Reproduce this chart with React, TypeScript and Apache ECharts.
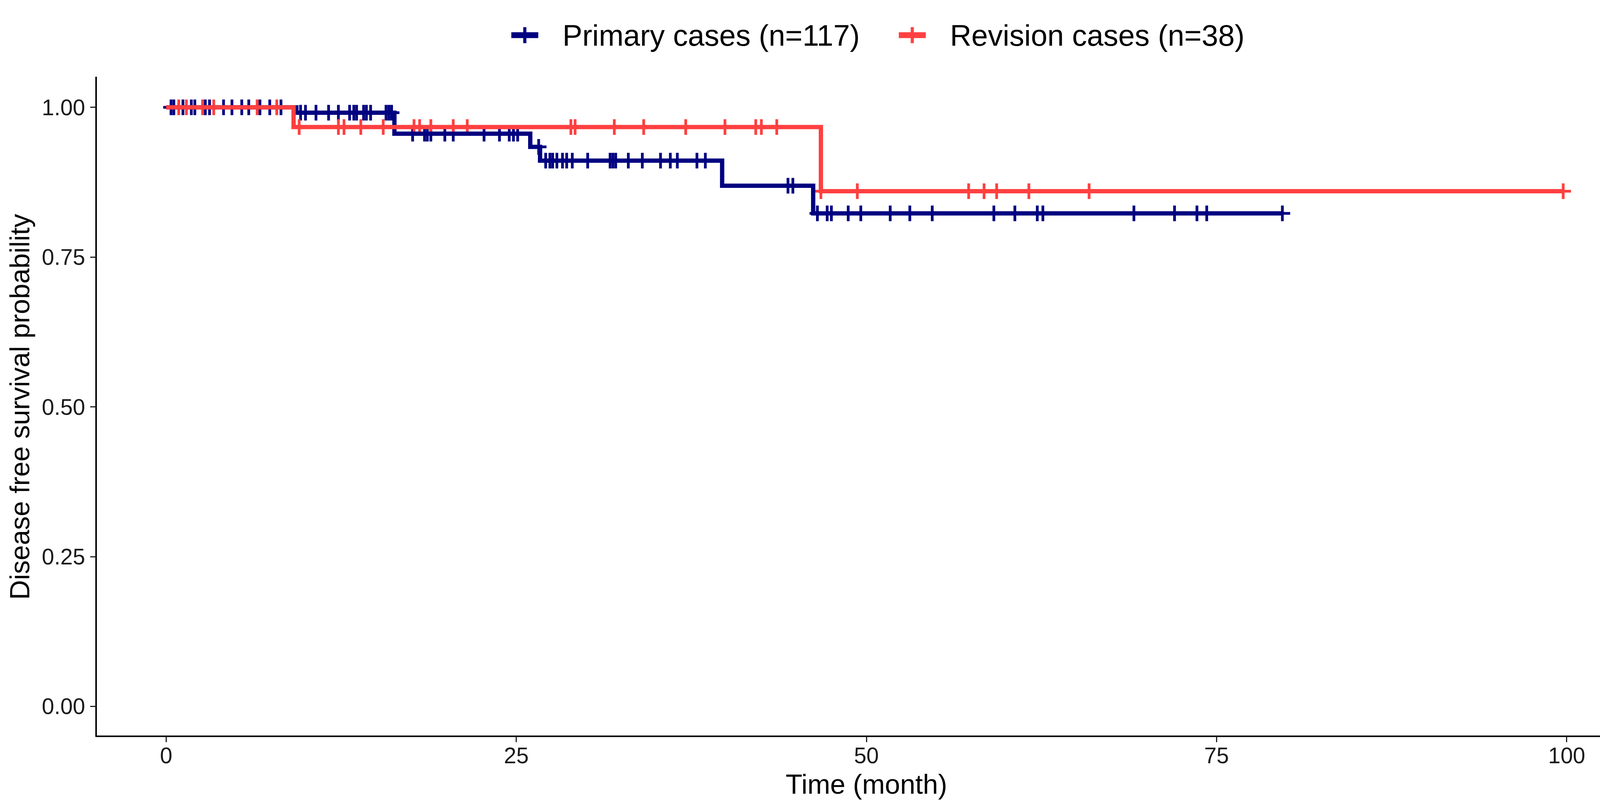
import React, { useEffect, useRef } from "react";
import * as echarts from "echarts";

// ---- Data ----
const seriesNames = ["Primary cases (n=117)", "Revision cases (n=38)"];
const seriesColors = ["#000080", "#FF4040"];

const xTicks = [0, 25, 50, 75, 100];
const yTicks = [0, 0.25, 0.5, 0.75, 1];

// Primary: event times and survival after each event
const primaryEventTimes = [0, 9.3, 16.3, 26.0, 26.7, 39.7, 46.2];
const primarySurv = [1, 0.991, 0.956, 0.934, 0.911, 0.869, 0.823];
const primaryCensorTimes = [
  0.35, 0.55, 1.2, 1.8, 2.05, 2.8, 3.1, 4.1, 4.7, 5.4, 5.9, 6.7, 7.4, 8.2,
  9.6, 9.95, 10.7, 11.6, 12.3, 13.1, 13.4, 13.6, 14.1, 14.3, 14.6, 15.7, 15.9, 16.1,
  17.6, 18.45, 18.65, 18.9, 19.9, 20.5, 22.7, 23.8, 24.5, 24.8, 25.1,
  26.6,
  27.1, 27.4, 27.6, 27.9, 28.3, 28.6, 29.0, 30.1, 31.7, 31.9, 32.1, 33.0, 34.0, 35.3, 36.0, 36.5, 37.9, 38.5,
  44.4, 44.75,
  46.5, 47.2, 47.5, 48.7, 49.6, 51.7, 53.1, 54.7, 59.1, 60.6, 62.2, 62.6, 69.1, 72.0, 73.6, 74.3, 79.7,
];

// Revision
const revisionEventTimes = [0, 9.1, 46.75];
const revisionSurv = [1, 0.967, 0.86];
const revisionCensorTimes = [
  0.9, 1.45, 2.6, 3.4, 6.5, 7.9,
  9.5, 12.3, 12.7, 13.9, 15.5, 17.7, 18.1, 18.9, 20.5, 21.5, 28.9, 29.2, 32.0, 34.1, 37.1, 39.9, 42.1, 42.5, 43.6,
  46.75, 49.35, 57.3, 58.4, 59.3, 61.6, 65.9, 99.75,
];

// ---- helpers ----
function survAt(times: number[], surv: number[], t: number) {
  let s = surv[0];
  for (let i = 0; i < times.length; i++) if (times[i] <= t) s = surv[i];
  return s;
}
function stepData(times: number[], surv: number[], censors: number[]) {
  const d = times.map((t, i) => [t, surv[i]]);
  const last = Math.max(...censors, times[times.length - 1]);
  d.push([last, survAt(times, surv, last)]);
  return d;
}
function censorData(times: number[], surv: number[], censors: number[]) {
  return censors.map((t) => [t, survAt(times, surv, t)]);
}

const FONT = "'Liberation Sans', Arial, Helvetica, sans-serif";
const PLUS = "path://M0,16.5h40v7h-40z M16.5,0h7v40h-7z";
const LEGEND_PLUS = "path://M0,13h69v15h-69z M30.5,0h8v41h-8z";

export default function App() {
  const ref = useRef<HTMLDivElement>(null);
  useEffect(() => {
    if (!ref.current) return;
    const chart = echarts.init(ref.current, null, { renderer: "svg" });
    const lineSeries = (name: string, color: string, data: number[][]) => ({
      type: "line",
      name,
      data,
      step: "end",
      showSymbol: false,
      symbol: "none",
      lineStyle: { color, width: 11, cap: "butt", join: "miter" },
      itemStyle: { color },
    });
    const censorSeries = (name: string, color: string, data: number[][]) => ({
      type: "scatter",
      name,
      data,
      symbol: PLUS,
      symbolSize: [40, 40],
      itemStyle: { color, opacity: 1 },
    });
    chart.setOption({
      animation: false,
      backgroundColor: "#ffffff",
      textStyle: { fontFamily: FONT },
      legend: {
        left: 1304,
        top: 47,
        itemWidth: 69,
        itemHeight: 41,
        itemGap: 100,
        data: seriesNames.map((n) => ({ name: n, icon: LEGEND_PLUS })),
        textStyle: { fontSize: 76, color: "#000", fontFamily: FONT, padding: [0, 0, 0, 57] },
        selectedMode: false,
      },
      grid: { left: 246, right: 36, top: 198, bottom: 181, containLabel: false },
      xAxis: {
        type: "value",
        min: -5,
        max: 105,
        name: "Time (month)",
        nameLocation: "middle",
        nameGap: 88,
        nameTextStyle: { fontSize: 70, color: "#000", fontFamily: FONT },
        axisLine: { show: true, onZero: false, lineStyle: { color: "#000", width: 4 } },
        axisTick: { show: true, length: 15, customValues: xTicks, lineStyle: { color: "#222", width: 3 } },
        axisLabel: {
          show: true,
          customValues: xTicks,
          fontSize: 57,
          color: "#1a1a1a",
          margin: 20,
          fontFamily: FONT,
        },
        splitLine: { show: false },
      },
      yAxis: {
        type: "value",
        min: -0.05,
        max: 1.05,
        name: "Disease free survival probability",
        nameLocation: "middle",
        nameGap: 160,
        nameTextStyle: { fontSize: 70, color: "#000", fontFamily: FONT },
        axisLine: { show: true, onZero: false, lineStyle: { color: "#000", width: 4 } },
        axisTick: { show: true, length: 15, customValues: yTicks, lineStyle: { color: "#222", width: 3 } },
        axisLabel: {
          show: true,
          customValues: yTicks,
          fontSize: 57,
          color: "#1a1a1a",
          margin: 28,
          fontFamily: FONT,
          formatter: (v: number) => v.toFixed(2),
        },
        splitLine: { show: false },
      },
      series: [
        lineSeries(seriesNames[0], seriesColors[0], stepData(primaryEventTimes, primarySurv, primaryCensorTimes)),
        censorSeries(seriesNames[0], seriesColors[0], censorData(primaryEventTimes, primarySurv, primaryCensorTimes)),
        lineSeries(seriesNames[1], seriesColors[1], stepData(revisionEventTimes, revisionSurv, revisionCensorTimes)),
        censorSeries(seriesNames[1], seriesColors[1], censorData(revisionEventTimes, revisionSurv, revisionCensorTimes)),
      ],
    });
    return () => chart.dispose();
  }, []);
  return (
    <div
      ref={ref}
      style={{ position: "absolute", left: 0, top: 0, width: 4226, height: 2066, background: "#fff" }}
    />
  );
}
